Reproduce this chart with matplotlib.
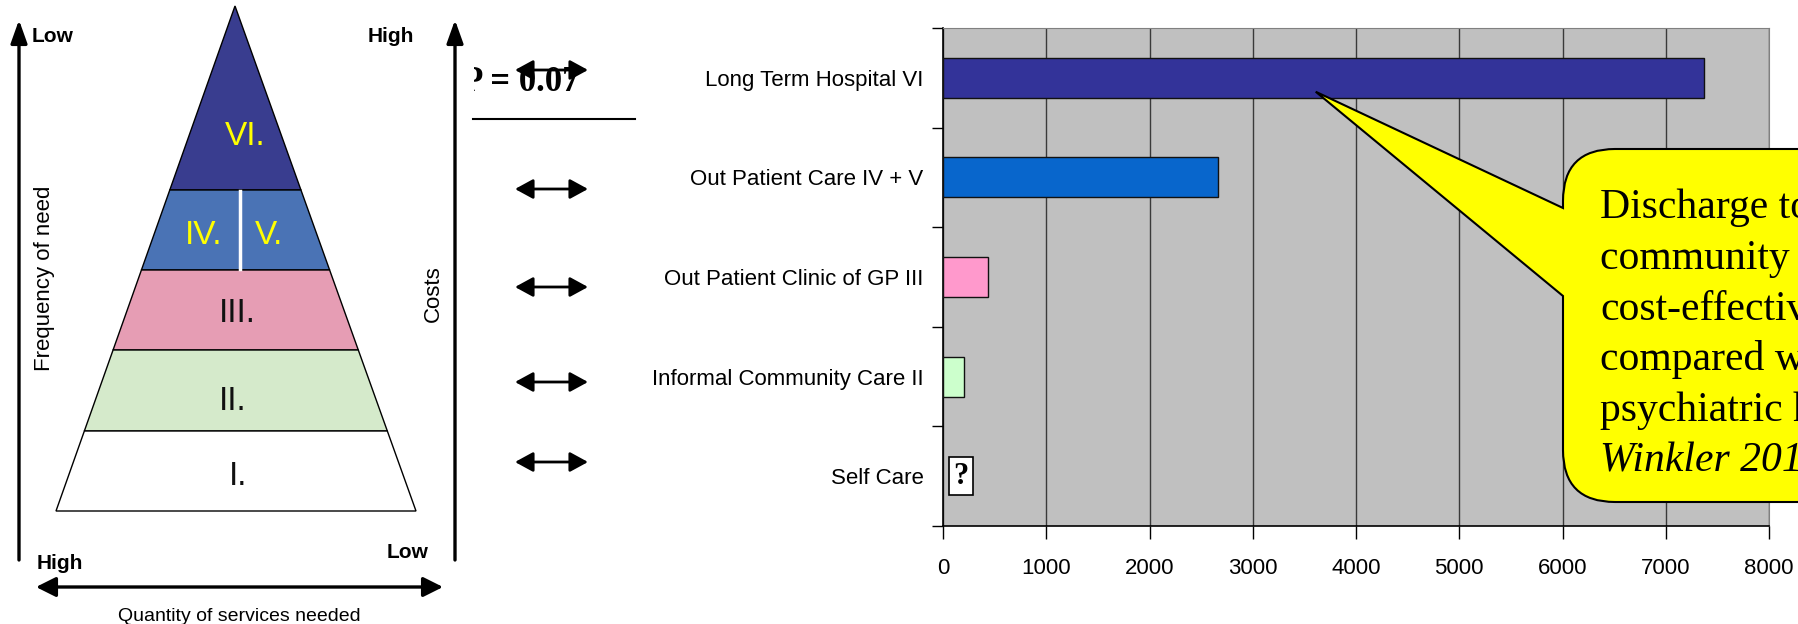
import numpy as np
import matplotlib.pyplot as plt
from matplotlib.patches import Polygon, FancyArrowPatch, PathPatch
from matplotlib.path import Path
from matplotlib.transforms import Bbox, TransformedBbox

plt.rcParams['font.family'] = ['Liberation Sans', 'DejaVu Sans']

# cost per category (Self Care is unknown, shown as "?")
categories = ['Long Term Hospital VI', 'Out Patient Care IV + V',
              'Out Patient Clinic of GP III', 'Informal Community Care II', 'Self Care']
costs = [7370, 2660, 440, 200, None]
bar_colors = ['#333399', '#0866CC', '#FF99CC', '#CCFFCC', None]
unknown_pos = 175
x_ticks = list(range(0, 8001, 1000))

# pyramid of care levels, top to bottom
pyr_colors = ['#393D8F', '#4A73B5', '#E69DB4', '#D5EACB', '#FFFFFF']
pyr_labels = [['VI.'], ['IV.', 'V.'], ['III.'], ['II.'], ['I.']]
pyr_label_colors = ['#FFFF00', '#FFFF00', '#111111', '#111111', '#111111']

callout_lines = ['Discharge to', 'community is', 'cost-effective',
                 'compared with', 'psychiatric hospital']
callout_cite = 'Winkler 2018'

W, H = 1799, 624
fig = plt.figure(figsize=(W / 100, H / 100), dpi=100)

# ---- bar chart
ax = fig.add_axes([943 / W, (H - 526) / H, (1769 - 943) / W, (526 - 28) / H])
ax.set_facecolor('#C0C0C0')
ypos = np.arange(len(categories))
for y, c, col in zip(ypos, costs, bar_colors):
    if c is not None:
        ax.barh(y, c, height=0.4, color=col, edgecolor='#111111', linewidth=1, zorder=3)
ax.text(unknown_pos, ypos[-1], '?', ha='center', va='center', family='Liberation Serif',
        fontweight='bold', fontsize=22, zorder=4,
        bbox=dict(boxstyle='square,pad=0.15', fc='white', ec='black', lw=1.2))
ax.set_xlim(0, 8000)
ax.set_ylim(len(categories) - 0.5, -0.5)
ax.set_xticks(x_ticks)
ax.xaxis.grid(True, color='#3a3a3a', lw=1)
ax.set_axisbelow(True)
ax.set_yticks(ypos, categories)
ax.set_yticks(np.arange(-0.5, len(categories), 1), minor=True)
ax.tick_params(axis='y', which='major', length=0, pad=14, labelsize=16)
ax.tick_params(axis='y', which='minor', length=8, width=1, direction='out')
ax.tick_params(axis='x', length=9, width=1, pad=14, labelsize=16)
for s in ['left', 'bottom']:
    ax.spines[s].set_linewidth(1.2)
for s in ['top', 'right']:
    ax.spines[s].set_color('#808080')

# ---- overlay in pixel coordinates
ov = fig.add_axes([0, 0, 1, 1])
ov.set_xlim(0, W)
ov.set_ylim(H, 0)
ov.axis('off')
ov.set_zorder(5)
ov.patch.set_alpha(0)

# pyramid
apex_x, apex_y, base_l, base_r, base_y = 235, 6, 56, 416, 511
bounds = [6, 190, 270, 350, 431, 511]


def edges(y):
    t = (y - apex_y) / (base_y - apex_y)
    return apex_x - t * (apex_x - base_l), apex_x + t * (base_r - apex_x)


for i, col in enumerate(pyr_colors):
    y0, y1 = bounds[i], bounds[i + 1]
    l0, r0 = edges(y0)
    l1, r1 = edges(y1)
    ov.add_patch(Polygon([(l0, y0), (r0, y0), (r1, y1), (l1, y1)], closed=True,
                         fc=col, ec='black', lw=1))
ov.plot([240, 240], [bounds[1] + 1, bounds[2] - 1], color='white', lw=2.5)

lab_pos = [[(245, 145)], [(204, 244), (269, 244)], [(237, 322)], [(233, 410)], [(238, 485)]]
for labs, poss, col in zip(pyr_labels, lab_pos, pyr_label_colors):
    for t, (x, y) in zip(labs, poss):
        ov.text(x, y, t, ha='center', va='baseline', fontsize=24, color=col)

big = dict(arrowstyle='-|>,head_length=0.7,head_width=0.25', mutation_scale=20,
           lw=2.4, color='black', shrinkA=0, shrinkB=0)
ov.add_patch(FancyArrowPatch((19, 560), (19, 20), **big))
ov.add_patch(FancyArrowPatch((455, 560), (455, 20), **big))
ov.add_patch(FancyArrowPatch((36, 587), (443, 587), arrowstyle='<|-|>,head_length=0.6,head_width=0.3',
                             mutation_scale=20, lw=2.4, color='black', shrinkA=0, shrinkB=0))

ov.text(32, 42, 'Low', fontsize=15, fontweight='bold', va='baseline')
ov.text(368, 42, 'High', fontsize=15, fontweight='bold', va='baseline')
ov.text(37, 569, 'High', fontsize=15, fontweight='bold', va='baseline')
ov.text(387, 558, 'Low', fontsize=15, fontweight='bold', va='baseline')
ov.text(45, 278, 'Frequency of need', rotation=90, ha='center', va='center', fontsize=16)
ov.text(433, 294, 'Costs', rotation=90, ha='center', va='center', fontsize=16)
ov.text(239, 621, 'Quantity of services needed', ha='center', va='baseline', fontsize=14)

# clipped "P = 0.07" fragment with the stray arrow on top
pt = ov.text(580, 91, 'P = 0.07', ha='right', va='baseline', fontsize=25,
             fontweight='bold', family='Liberation Serif')
pt.set_clip_box(TransformedBbox(Bbox([[474, 0], [800, 200]]), ov.transData))
pt.set_clip_on(True)
ov.add_patch(FancyArrowPatch((515, 70), (588, 70), arrowstyle='<|-|>,head_length=0.55,head_width=0.3',
                             mutation_scale=20, lw=2, color='black', shrinkA=0, shrinkB=0))
ov.plot([473, 635], [119, 119], color='black', lw=1.5)

for yy in [189, 287, 382, 462]:
    ov.add_patch(FancyArrowPatch((515, yy), (588, yy), arrowstyle='<|-|>,head_length=0.55,head_width=0.3',
                                 mutation_scale=20, lw=2, color='black', shrinkA=0, shrinkB=0))

# callout bubble pointing at the hospital bar
dx, dy = ax.transData.transform((3610, 0.14))
tip = (dx, H - dy)
x0, ytop, ybot, r, xr = 1563, 149, 502, 52, 1900
verts = [(x0, 208), tip, (x0, 296), (x0, ybot - r), (x0, ybot), (x0 + r, ybot),
         (xr, ybot), (xr, ytop), (x0 + r, ytop), (x0, ytop), (x0, ytop + r), (x0, 208)]
codes = [Path.MOVETO, Path.LINETO, Path.LINETO, Path.LINETO, Path.CURVE3, Path.CURVE3,
         Path.LINETO, Path.LINETO, Path.LINETO, Path.CURVE3, Path.CURVE3, Path.CLOSEPOLY]
ov.add_patch(PathPatch(Path(verts, codes), fc='#FFFF00', ec='black', lw=1.5))
for i, line in enumerate(callout_lines):
    ov.text(1600, 218 + i * 50.8, line, fontsize=30, family='Liberation Serif', va='baseline')
ov.text(1600, 218 + 5 * 50.8, callout_cite, fontsize=30, family='Liberation Serif',
        style='italic', va='baseline')

fig.savefig('out.png', dpi=100)
